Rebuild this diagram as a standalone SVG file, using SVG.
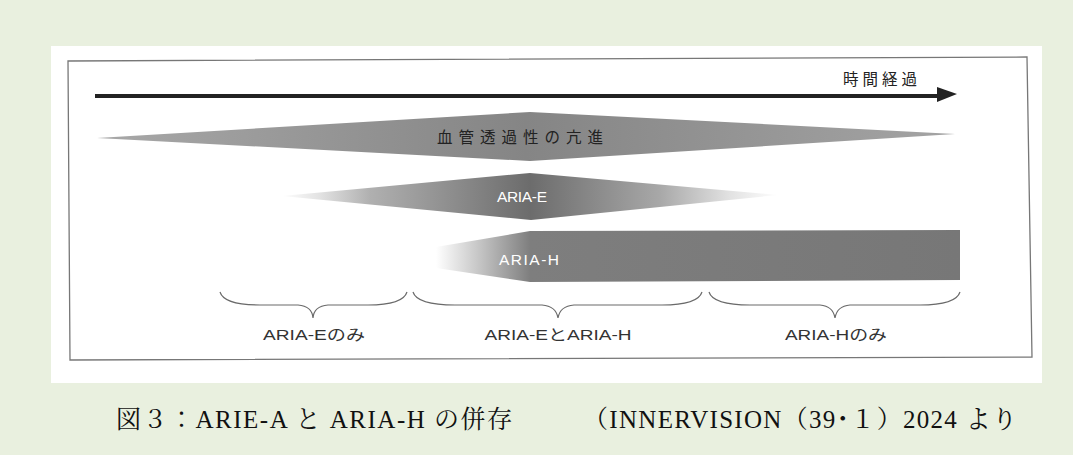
<svg xmlns="http://www.w3.org/2000/svg" width="1073" height="455" viewBox="0 0 1073 455">
<defs>
<style>
.lbl{font-family:"Liberation Sans","Noto Sans CJK JP",sans-serif;font-size:14.5px;fill:#333;text-anchor:middle}
.wl{font-family:"Liberation Sans","Noto Sans CJK JP",sans-serif;font-size:15.5px;fill:#fff;text-anchor:middle}
.jp{font-family:"Noto Sans CJK JP",sans-serif;font-size:15.5px;fill:#222;text-anchor:middle}
.cap{font-family:"Liberation Serif","Noto Serif CJK JP","Noto Sans CJK JP",serif;font-size:25px;fill:#111}
.brace{fill:none;stroke:#6a6a6a;stroke-width:1.2}
</style>
<linearGradient id="gTop" gradientUnits="userSpaceOnUse" x1="97" y1="0" x2="955" y2="0">
<stop offset="0" stop-color="#a8a8a8"/><stop offset="0.5" stop-color="#858585"/><stop offset="1" stop-color="#a4a4a4"/>
</linearGradient>
<linearGradient id="gE" gradientUnits="userSpaceOnUse" x1="280" y1="0" x2="780" y2="0">
<stop offset="0" stop-color="#ffffff"/><stop offset="0.08" stop-color="#e2e2e2"/><stop offset="0.18" stop-color="#b0b0b0"/><stop offset="0.5" stop-color="#6c6c6c"/><stop offset="0.76" stop-color="#a8a8a8"/><stop offset="0.9" stop-color="#e2e2e2"/><stop offset="1" stop-color="#ffffff"/>
</linearGradient>
<linearGradient id="gH" gradientUnits="userSpaceOnUse" x1="436" y1="0" x2="960" y2="0">
<stop offset="0" stop-color="#ffffff"/><stop offset="0.09" stop-color="#c0c0c0"/><stop offset="0.18" stop-color="#7e7e7e"/><stop offset="1" stop-color="#777777"/>
</linearGradient>
</defs>
<rect x="0" y="0" width="1073" height="455" fill="#e9f0df"/>
<rect x="51" y="46" width="991" height="337" fill="#ffffff"/>
<polygon points="68,61 1027,57 1032,357 70,360" fill="none" stroke="#777" stroke-width="1.3"/>

<g id="connectors">
<line x1="95" y1="96" x2="940" y2="96" stroke="#222" stroke-width="4"/>
<polygon points="937,87 957,94 937,102" fill="#222"/>
</g>

<g id="time">
<text class="jp" x="880" y="85" textLength="74" lengthAdjust="spacing">時間経過</text>
</g>

<g id="vascular">
<polygon points="97,138 530,112 955,134 530,161" fill="url(#gTop)"/>
<text class="jp" x="520" y="143" textLength="166" lengthAdjust="spacing">血管透過性の亢進</text>
</g>

<g id="aria-e">
<polygon points="282,196 530,173 778,195 531,220" fill="url(#gE)"/>
<text class="wl" x="522" y="202" textLength="50" lengthAdjust="spacing">ARIA-E</text>
</g>

<g id="aria-h">
<polygon points="436,247 530,231 960,230 960,280 530,282 436,268" fill="url(#gH)"/>
<text class="wl" x="529" y="265" textLength="60" lengthAdjust="spacing">ARIA-H</text>
</g>

<g id="brace-e">
<path class="brace" d="M220,292 Q224,305 260,305 L298,305 Q312,306 313,318 Q314,306 328,305 L368,305 Q403,305 407,292"/>
<text class="lbl" x="314" y="340" textLength="102" lengthAdjust="spacingAndGlyphs">ARIA-Eのみ</text>
</g>

<g id="brace-eh">
<path class="brace" d="M413,292 Q417,305 455,305 L542,305 Q556,306 558,318 Q560,306 574,305 L662,305 Q698,305 702,292"/>
<text class="lbl" x="558" y="340" textLength="147" lengthAdjust="spacingAndGlyphs">ARIA-EとARIA-H</text>
</g>

<g id="brace-h">
<path class="brace" d="M709,292 Q713,305 750,305 L820,305 Q833,306 835,318 Q837,306 850,305 L920,305 Q956,305 960,292"/>
<text class="lbl" x="836" y="340" textLength="102" lengthAdjust="spacingAndGlyphs">ARIA-Hのみ</text>
</g>

<g id="caption">
<text class="cap" x="116" y="428" textLength="396" lengthAdjust="spacing">図３：ARIE-A と ARIA-H の併存</text>
<text class="cap" x="583" y="428" textLength="434" lengthAdjust="spacing">（INNERVISION（39･１）2024 より</text>
</g>
</svg>
